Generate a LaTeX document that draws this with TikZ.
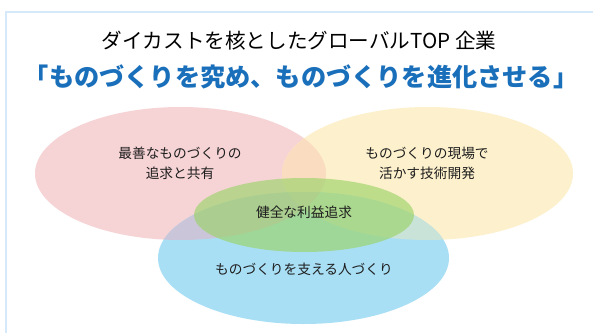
\documentclass[tikz,border=0pt]{standalone}
\usepackage{fontspec}
\newfontfamily\jp{Noto Sans CJK JP}
\usetikzlibrary{shapes.geometric}
\definecolor{framec}{RGB}{214,233,250}
\definecolor{pinkc}{RGB}{246,211,213}
\definecolor{yellowc}{RGB}{253,240,204}
\definecolor{bluec}{RGB}{169,223,245}
\definecolor{pyc}{RGB}{250,220,192}
\definecolor{pbc}{RGB}{203,197,218}
\definecolor{ybc}{RGB}{201,227,216}
\definecolor{pybc}{RGB}{215,205,200}
\definecolor{greenc}{RGB}{155,211,105}
\definecolor{titleblue}{RGB}{26,111,187}
\definecolor{textc}{RGB}{30,30,30}
\tikzset{
  lbl/.style={font=\jp\fontsize{13.7}{20}\selectfont, text=textc, align=center, inner sep=0pt},
}
\begin{document}
\begin{tikzpicture}[x=1pt,y=-1pt]
\useasboundingbox (0,0) rectangle (593,332);
\fill[white] (0,0) rectangle (593,332);
% frame
\draw[framec, line width=2.5pt] (6.2,340) -- (6.2,12.2) -- (600,12.2);
% ellipses
\def\pinkE{(180.5,173.5) ellipse [x radius=145.5, y radius=66.5]}
\def\yellE{(427.5,173.5) ellipse [x radius=145.5, y radius=66.5]}
\def\blueE{(303.5,258) ellipse [x radius=145.5, y radius=66]}
\fill[pinkc] \pinkE;
\fill[yellowc] \yellE;
\fill[bluec] \blueE;
\begin{scope}
  \clip \pinkE;
  \fill[pyc] \yellE;
  \fill[pbc] \blueE;
\end{scope}
\begin{scope}
  \clip \yellE;
  \clip \blueE;
  \fill[ybc] (0,0) rectangle (593,332);
  \clip \pinkE;
  \fill[pybc] (0,0) rectangle (593,332);
\end{scope}
\fill[greenc, fill opacity=0.65] (304,215) ellipse [x radius=110, y radius=37];
% titles
\node[font=\jp\fontsize{20.6}{22}\selectfont, text=black, inner sep=0pt] (title) at (299,41) {ダイカストを核としたグローバルTOP 企業};
\node[font=\jp\bfseries\fontsize{25.2}{27}\selectfont, text=titleblue, inner sep=0pt] (sub) at (301,77) {「ものづくりを究め、ものづくりを進化させる」};
% labels
\node[lbl] (pinkl) at (180,163) {最善なものづくりの\\追求と共有};
\node[lbl] (yell) at (427,163) {ものづくりの現場で\\活かす技術開発};
\node[lbl] (greenl) at (304,212) {健全な利益追求};
\node[lbl] (bluel) at (304,269) {ものづくりを支える人づくり};
\end{tikzpicture}
\end{document}
